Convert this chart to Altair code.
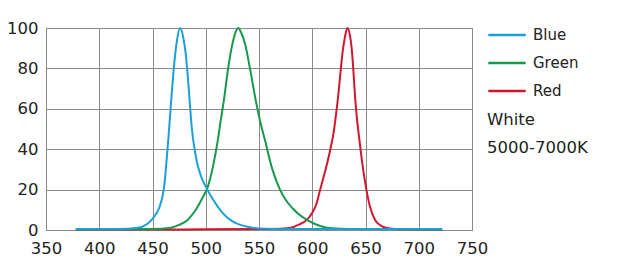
import altair as alt
import pandas as pd

series_names = ["Blue", "Green", "Red"]
series_colors = ["#1b9fd8", "#16994a", "#d0172f"]

blue_wl = [378, 400, 420, 435, 445, 450, 454, 457, 459.5, 461.5, 463, 465, 467, 470, 473, 476, 479, 481, 483, 485, 487, 489.5, 492, 496, 502, 507, 515, 523, 530, 540, 550, 580, 650, 722]
blue_val = [0.5, 0.5, 0.5, 1, 3, 5.5, 8.5, 12, 17, 24, 33, 46, 60, 80, 94, 100, 95, 88, 77, 63, 50, 40, 33, 26, 19.5, 15, 9, 5, 3, 1.5, 0.8, 0.5, 0.5, 0.5]

green_wl = [378, 450, 466, 475, 483, 490, 496, 502, 507, 511.5, 514, 517, 521, 525, 528, 530.5, 533, 537, 541.5, 547, 551, 555.6, 562, 569.7, 575, 582, 588, 595, 605, 616, 640, 722]
green_val = [0.3, 0.5, 1, 2.5, 5, 9.5, 15, 21.5, 32, 45, 54, 64, 80, 92, 98, 100, 98, 92, 80, 64, 54, 44.5, 31, 20, 15, 10.5, 7.5, 5, 2.5, 1, 0.5, 0.3]

red_wl = [378, 480, 560, 579, 588, 595, 600, 604, 607, 610, 614, 617, 620, 622.5, 624.5, 626.5, 628.5, 630.5, 633, 635.5, 637, 638.5, 640.2, 642, 644.2, 647, 650.5, 654, 659, 664, 670, 680, 722]
red_val = [0.2, 0.3, 0.5, 1, 2.8, 5, 8.5, 13, 19, 25, 33, 40, 48, 58, 67, 78, 88, 95, 100, 96, 90, 80, 66, 55, 45, 33, 21, 12, 5, 2.3, 1, 0.4, 0.3]

note_lines = ["White", "5000-7000K"]

x_ticks = [350, 400, 450, 500, 550, 600, 650, 700, 750]
y_ticks = [0, 20, 40, 60, 80, 100]

FONT = "DejaVu Sans"
GRID = "#8a8a8a"
TEXT = "#222222"


def frame(name, wl, val):
    return pd.DataFrame({"wl": wl, "val": val, "series": name})


color_scale = alt.Scale(domain=series_names, range=series_colors)
x_enc = alt.X("wl:Q", scale=alt.Scale(domain=[350, 750], nice=False),
              axis=alt.Axis(values=x_ticks, title=None, labelFontSize=16.5,
                            labelPadding=10, ticks=False, gridColor=GRID,
                            labelFlush=False, labelOverlap=False,
                            domainColor=GRID, labelColor=TEXT, labelFont=FONT))
y_enc = alt.Y("val:Q", scale=alt.Scale(domain=[0, 100], nice=False),
              axis=alt.Axis(values=y_ticks, title=None, labelFontSize=16.5,
                            labelPadding=8, ticks=False, gridColor=GRID,
                            labelFlush=False, labelOverlap=False,
                            domainColor=GRID, labelColor=TEXT, labelFont=FONT))


def line(name, wl, val):
    return alt.Chart(frame(name, wl, val)).mark_line(
        strokeWidth=2, interpolate="monotone"
    ).encode(
        x=x_enc, y=y_enc,
        color=alt.Color("series:N", scale=color_scale,
                        legend=alt.Legend(
                            title=None, orient="none", legendX=441, legendY=-13,
                            symbolType="stroke", symbolSize=1400,
                            symbolStrokeWidth=2.5, labelFontSize=15,
                            labelFont=FONT, labelColor=TEXT, labelOffset=6,
                            rowPadding=-9, symbolLimit=0)),
    )


lines = alt.layer(
    line("Red", red_wl, red_val),
    line("Green", green_wl, green_val),
    line("Blue", blue_wl, blue_val),
)

notes = pd.DataFrame({"text": note_lines, "row": [0, 1]})
note_chart = alt.Chart(notes).mark_text(
    align="left", baseline="middle", fontSize=16.5, font=FONT, color=TEXT
).encode(
    x=alt.value(441),
    y=alt.Y("row:Q", axis=None, scale=alt.Scale(domain=[0, 1], range=[92, 120])),
    text="text:N",
)

chart = alt.layer(lines, note_chart).resolve_scale(y="independent").properties(
    width=426, height=202,
    autosize=alt.AutoSizeParams(type="none"),
    padding={"left": 46, "top": 28, "right": 151, "bottom": 35},
).configure_view(stroke=GRID, strokeWidth=1).configure_axis(gridWidth=1)

chart.save("out.html", embed_options={"renderer": "svg", "actions": False})
